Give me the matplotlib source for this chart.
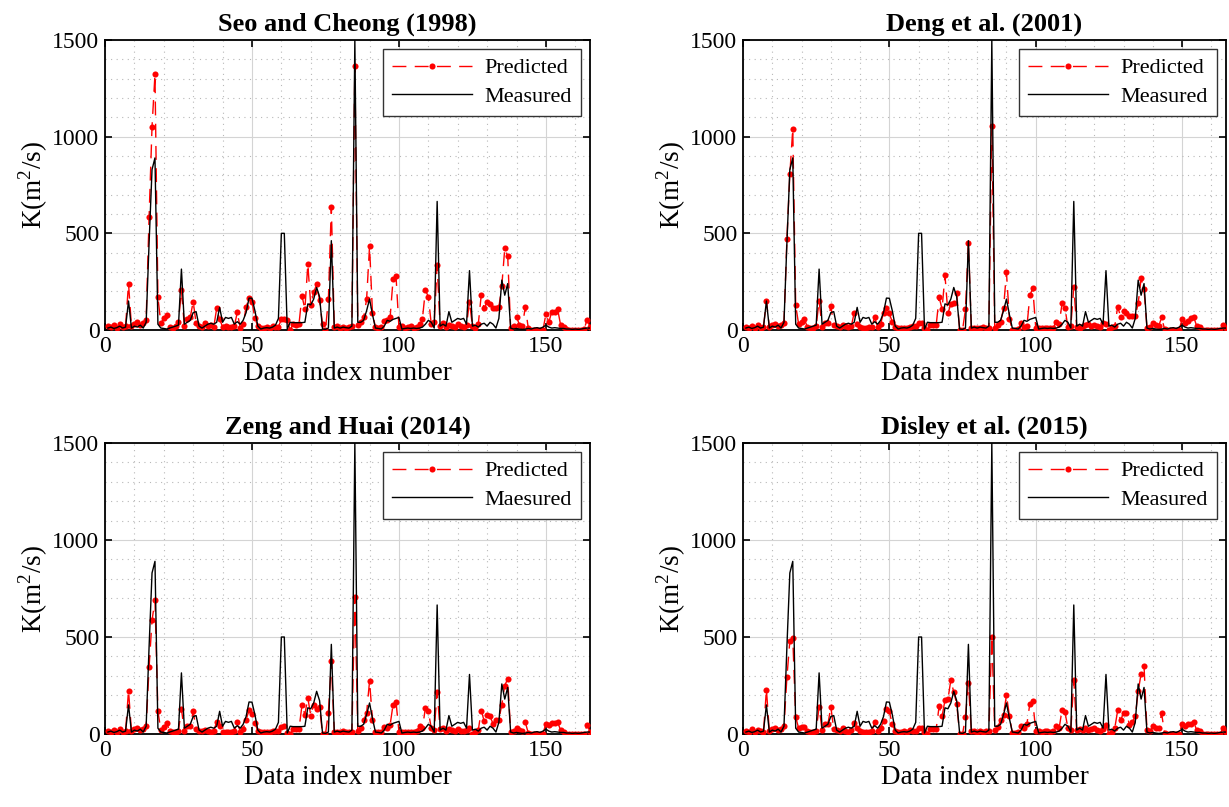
import numpy as np
import matplotlib
matplotlib.use("Agg")
import matplotlib.pyplot as plt
from matplotlib.ticker import MultipleLocator

plt.rcParams['font.family'] = ['Liberation Serif', 'DejaVu Serif']
plt.rcParams['mathtext.fontset'] = 'custom'
plt.rcParams['mathtext.rm'] = 'Liberation Serif'

index = np.arange(1, 166)

measured = [
    10, 15, 8, 12, 20, 10, 15, 150, 10, 20,
    15, 25, 10, 40, 450, 830, 890, 30, 10, 8,
    5, 10, 15, 20, 25, 315, 30, 40, 50, 90,
    95, 20, 10, 20, 30, 35, 30, 40, 117, 40,
    65, 60, 65, 30, 43, 30, 50, 90, 165, 164,
    100, 20, 5, 10, 12, 10, 15, 25, 60, 500,
    500, 5, 40, 38, 38, 38, 38, 40, 135, 130,
    160, 220, 172, 5, 3, 10, 462, 10, 15, 10,
    15, 12, 10, 20, 1500, 40, 40, 50, 100, 160,
    80, 10, 8, 5, 20, 50, 45, 55, 60, 65,
    5, 8, 10, 8, 10, 8, 10, 15, 30, 50,
    40, 10, 665, 20, 30, 20, 95, 40, 50, 60,
    55, 60, 30, 307, 20, 25, 15, 30, 35, 20,
    40, 30, 10, 60, 258, 180, 240, 10, 5, 8,
    5, 3, 5, 8, 5, 10, 12, 8, 15, 25,
    15, 10, 12, 10, 8, 8, 5, 5, 3, 5,
    3, 5, 8, 10, 10,
]

pred_seo = [
    20, 15, 25, 10, 30, 15, 20, 240, 20, 30,
    40, 25, 35, 52, 586, 1052, 1322, 169, 35, 60,
    78, 15, 10, 20, 43, 207, 20, 55, 65, 147,
    35, 20, 15, 35, 20, 25, 15, 112, 55, 17,
    20, 15, 18, 20, 91, 12, 30, 117, 167, 147,
    60, 20, 10, 12, 15, 10, 20, 15, 17, 55,
    55, 50, 0, 31, 25, 30, 178, 107, 340, 128,
    195, 236, 155, 30, 0, 159, 638, 15, 20, 10,
    18, 12, 15, 20, 1367, 26, 40, 65, 159, 434,
    86, 15, 10, 15, 47, 50, 65, 262, 281, 15,
    20, 10, 15, 20, 12, 18, 30, 59, 207, 172,
    30, 40, 334, 20, 38, 15, 25, 20, 15, 30,
    20, 15, 25, 147, 20, 9, 31, 181, 112, 147,
    134, 115, 115, 118, 228, 422, 383, 12, 20, 69,
    26, 20, 120, 10, 0, 0, 0, 2, 0, 83,
    40, 95, 95, 107, 26, 15, 5, 0, 0, 0,
    0, 0, 5, 52, 17,
]

pred_deng = [
    15, 10, 20, 12, 25, 10, 15, 152, 15, 25,
    30, 20, 25, 38, 470, 805, 1040, 128, 30, 43,
    55, 15, 12, 10, 20, 152, 17, 38, 38, 124,
    26, 20, 15, 26, 20, 15, 20, 90, 30, 15,
    12, 10, 15, 18, 65, 15, 30, 90, 116, 86,
    41, 15, 10, 8, 12, 10, 15, 20, 20, 38,
    38, 12, 0, 26, 26, 26, 169, 109, 283, 86,
    134, 138, 193, 0, 0, 107, 452, 12, 12, 10,
    12, 15, 12, 12, 1057, 12, 26, 43, 112, 298,
    59, 0, 0, 5, 34, 15, 20, 179, 217, 12,
    12, 10, 12, 12, 10, 12, 43, 30, 138, 112,
    15, 20, 224, 15, 12, 20, 26, 30, 20, 26,
    20, 15, 35, 30, 0, 15, 20, 120, 69, 100,
    86, 72, 72, 72, 138, 267, 210, 12, 15, 35,
    26, 20, 65, 5, 0, 0, 0, 0, 2, 55,
    38, 45, 60, 65, 20, 15, 0, 0, 0, 0,
    0, 0, 0, 26, 10,
]

pred_zeng = [
    15, 10, 20, 8, 25, 12, 15, 224, 15, 25,
    30, 20, 25, 40, 345, 586, 690, 117, 20, 35,
    57, 15, 10, 12, 18, 129, 15, 40, 40, 117,
    26, 15, 15, 22, 15, 12, 15, 64, 40, 12,
    10, 12, 10, 15, 60, 12, 25, 74, 122, 105,
    57, 15, 10, 8, 10, 12, 15, 15, 15, 36,
    40, 5, 0, 26, 26, 26, 147, 100, 186, 95,
    152, 129, 140, 0, 0, 109, 374, 12, 10, 12,
    15, 10, 12, 12, 707, 17, 30, 71, 109, 272,
    74, 10, 8, 10, 36, 30, 47, 152, 167, 12,
    12, 10, 12, 12, 12, 15, 40, 30, 134, 117,
    30, 20, 219, 25, 30, 15, 25, 20, 15, 25,
    15, 15, 20, 31, 0, 10, 20, 121, 67, 100,
    91, 53, 74, 74, 152, 250, 284, 12, 15, 31,
    20, 15, 60, 5, 0, 0, 0, 0, 2, 53,
    45, 55, 57, 60, 20, 12, 0, 0, 0, 0,
    0, 0, 0, 47, 12,
]

pred_disley = [
    15, 12, 25, 10, 20, 15, 10, 229, 15, 25,
    30, 20, 25, 40, 293, 479, 497, 88, 30, 36,
    36, 15, 10, 12, 18, 140, 20, 50, 50, 140,
    26, 20, 15, 30, 15, 12, 20, 57, 30, 15,
    12, 10, 12, 15, 60, 15, 30, 66, 129, 117,
    50, 15, 10, 12, 15, 10, 20, 15, 15, 30,
    30, 10, 0, 26, 26, 26, 143, 91, 174, 178,
    278, 216, 157, 0, 0, 88, 264, 15, 15, 12,
    15, 10, 15, 15, 502, 20, 35, 71, 100, 200,
    95, 5, 5, 8, 40, 30, 53, 157, 169, 15,
    15, 12, 15, 15, 12, 15, 40, 30, 126, 112,
    30, 20, 278, 20, 25, 20, 30, 20, 25, 30,
    20, 15, 25, 48, 0, 10, 30, 122, 71, 109,
    109, 48, 60, 91, 220, 311, 350, 20, 15, 40,
    30, 30, 107, 5, 0, 0, 0, 0, 2, 53,
    40, 50, 53, 60, 20, 15, 0, 0, 0, 0,
    0, 0, 0, 30, 10,
]

titles = ["Seo and Cheong (1998)", "Deng et al. (2001)",
          "Zeng and Huai (2014)", "Disley et al. (2015)"]
predictions = [pred_seo, pred_deng, pred_zeng, pred_disley]
measured_labels = ["Measured", "Measured", "Maesured", "Measured"]

W, H = 1229, 807
fig = plt.figure(figsize=(W / 100, H / 100), dpi=100)

# axes boxes in pixel coordinates: (left, top, right, bottom)
boxes = [(105, 40, 590, 330), (743, 40, 1226, 330),
         (105, 443, 590, 734), (743, 443, 1226, 734)]

for box, title, pred, mlab in zip(boxes, titles, predictions, measured_labels):
    l, t, r, b = box
    ax = fig.add_axes([l / W, (H - b) / H, (r - l) / W, (b - t) / H])
    ax.plot(index, pred, color='red', linestyle=(0, (10, 6)), linewidth=1.0,
            marker='o', markersize=4.4, markeredgewidth=0, label='Predicted', zorder=3)
    ax.plot(index, measured, color='black', linewidth=1.0, label=mlab, zorder=4)

    ax.set_xlim(0, 165)
    ax.set_ylim(0, 1500)
    ax.xaxis.set_major_locator(MultipleLocator(50))
    ax.xaxis.set_minor_locator(MultipleLocator(10))
    ax.yaxis.set_major_locator(MultipleLocator(500))
    ax.yaxis.set_minor_locator(MultipleLocator(100))
    ax.grid(which='major', color='#d4d4d4', linewidth=0.8, linestyle='-')
    ax.grid(which='minor', color='#b8b8b8', linewidth=0.8, linestyle=(0, (1, 4)))
    ax.set_axisbelow(True)

    ax.tick_params(which='major', direction='in', length=5, width=1.2,
                   top=True, right=True, labelsize=17, pad=4)
    ax.tick_params(which='minor', length=0, top=True, right=True)
    for s in ax.spines.values():
        s.set_linewidth(1.3)

    ax.set_xlabel("Data index number", fontsize=19.5, labelpad=3)
    ax.set_ylabel("K(m$^2$/s)", fontsize=19.5, labelpad=2)
    ax.set_title(title, fontsize=19, fontweight='bold', pad=7)

    leg = ax.legend(loc='upper right', fontsize=16, frameon=True, fancybox=False,
                    framealpha=1, edgecolor='#333333', handlelength=3.6,
                    borderpad=0.4, labelspacing=0.35, handletextpad=0.6,
                    borderaxespad=0.4)
    leg.get_frame().set_linewidth(1.0)

fig.savefig("out.png", dpi=100)
